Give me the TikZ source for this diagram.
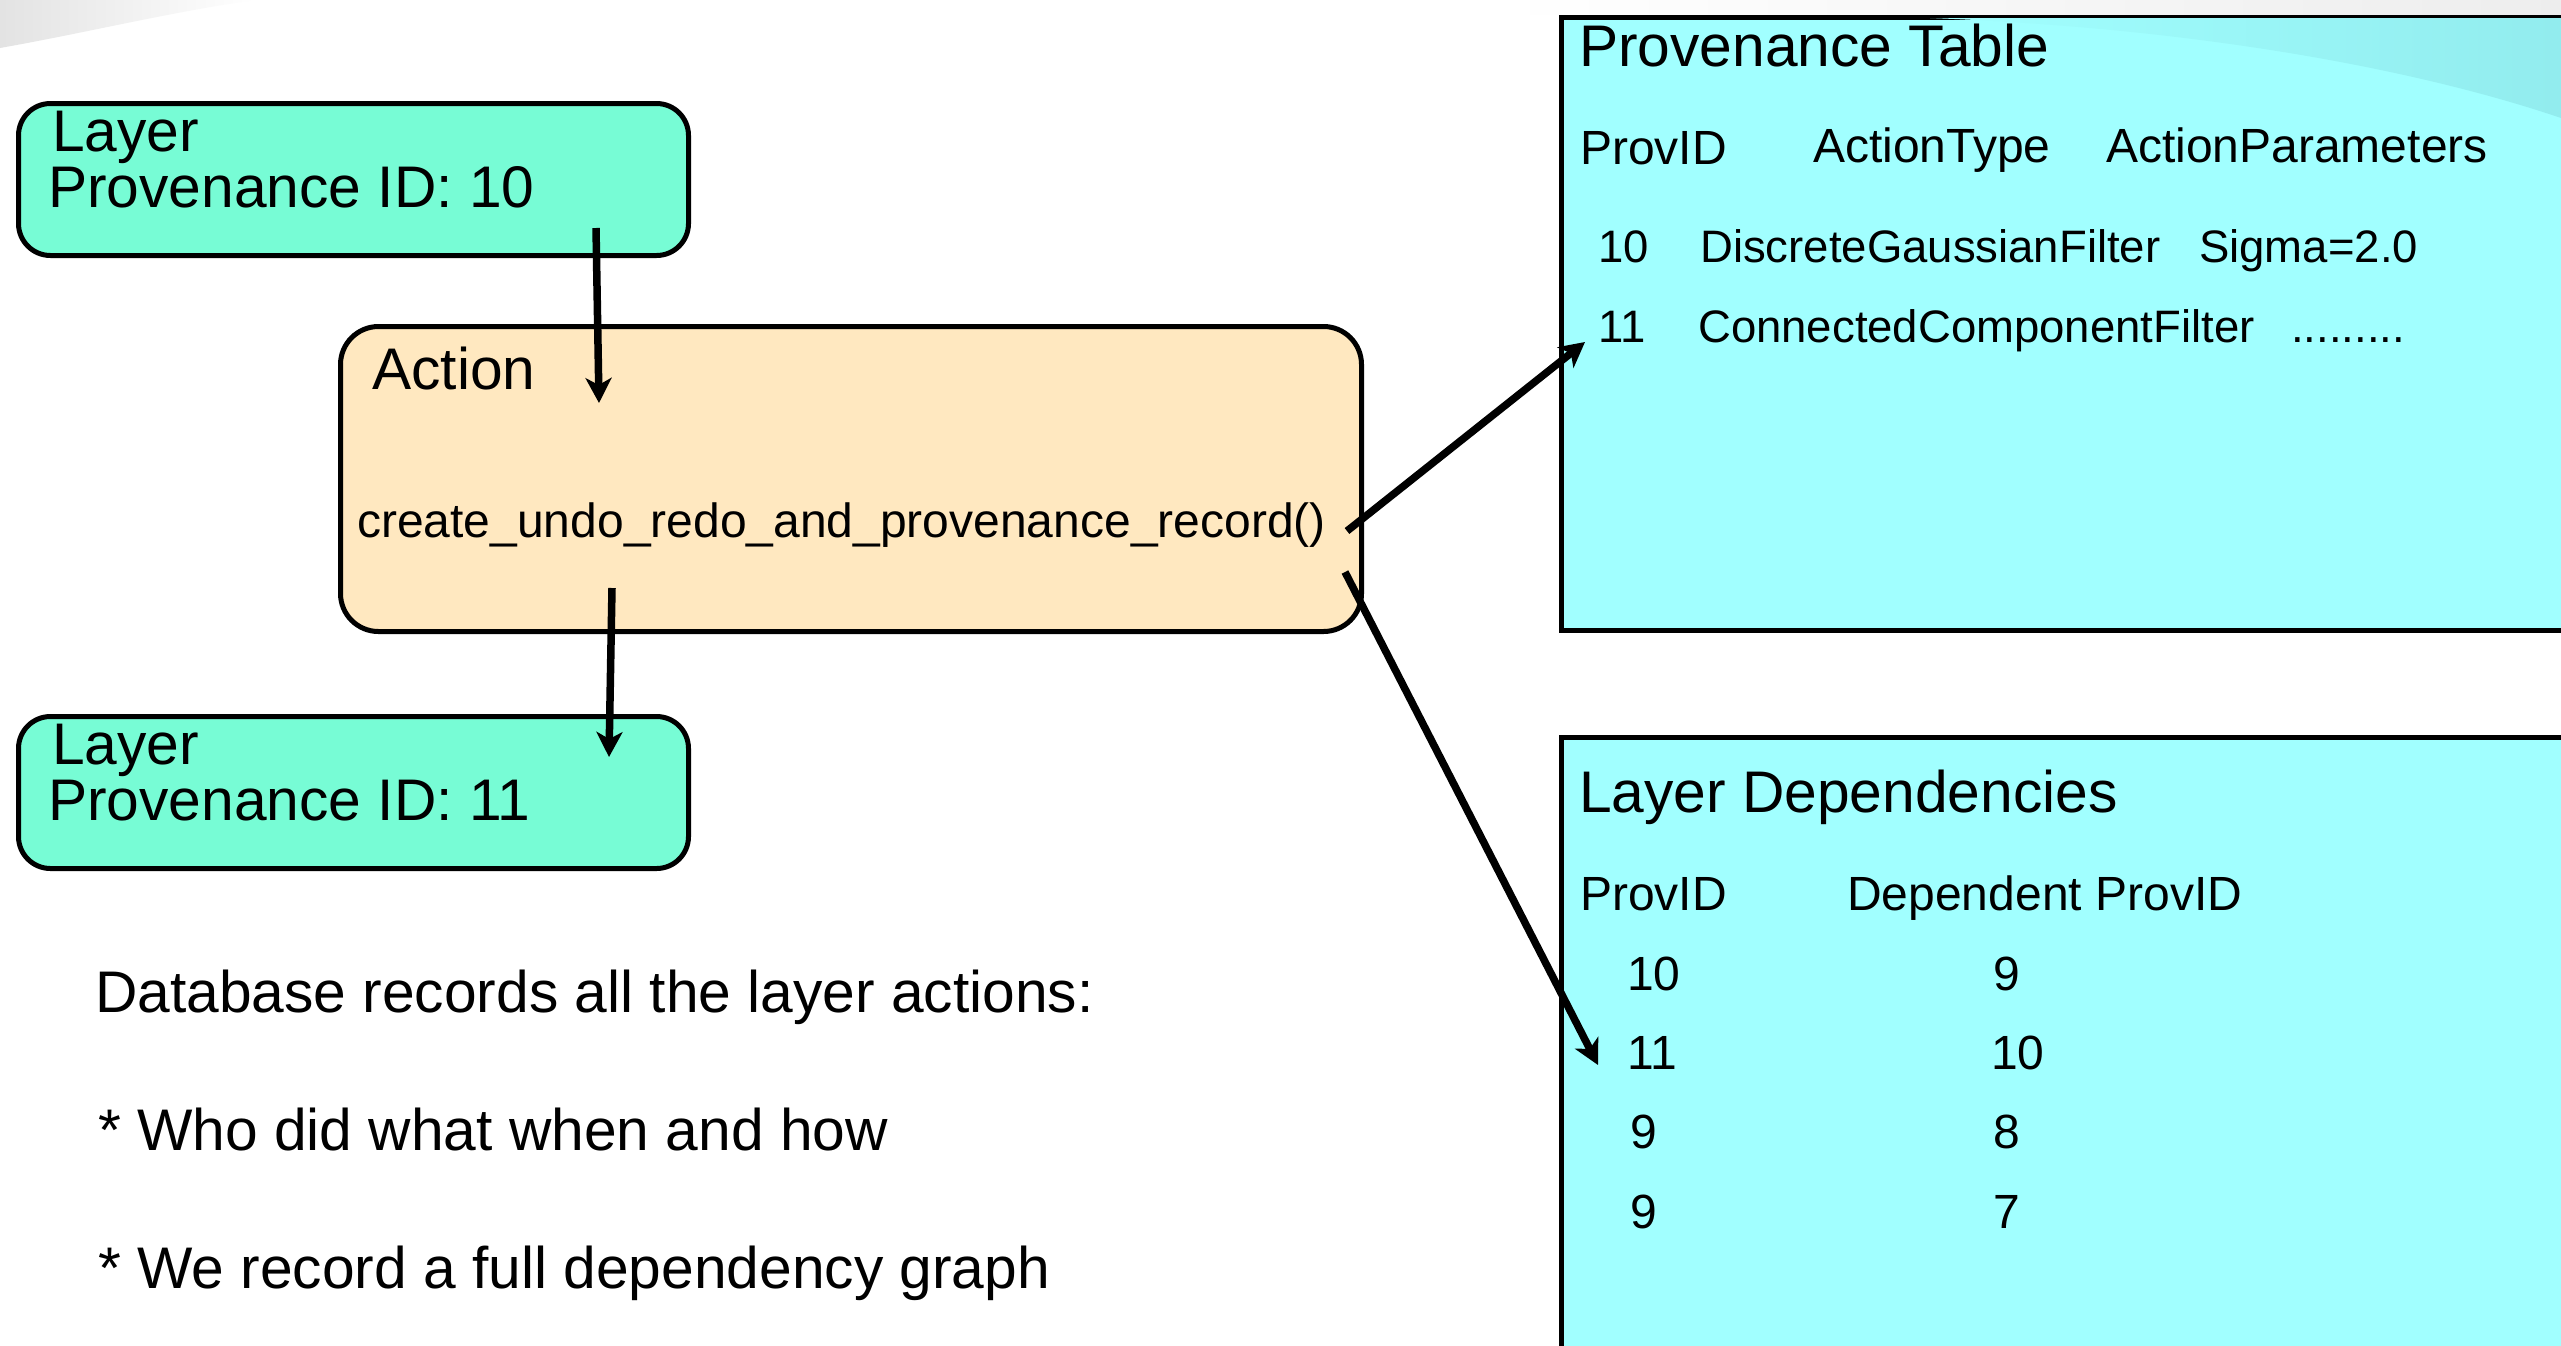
\documentclass[tikz,border=0pt]{standalone}
\usepackage{fontspec}
\setmainfont{Liberation Sans}
\usetikzlibrary{arrows.meta}
\definecolor{layercol}{RGB}{119,252,213}
\definecolor{actioncol}{RGB}{255,232,192}
\definecolor{tabcol}{RGB}{161,255,255}
\definecolor{tabdark}{RGB}{146,236,238}
\begin{document}
\begin{tikzpicture}[x=1pt,y=-1pt,
  layerbox/.style={draw=black, line width=5pt, fill=layercol, rounded corners=32pt,
    minimum width=670pt, minimum height=152pt, anchor=north west, inner sep=0pt},
  actionbox/.style={draw=black, line width=5pt, fill=actioncol, rounded corners=38pt,
    minimum width=1021pt, minimum height=305pt, anchor=north west, inner sep=0pt},
  tablebox/.style={draw=black, line width=5pt, fill=tabcol, anchor=north west, inner sep=0pt},
  big/.style={font=\fontsize{58.7}{58.7}\selectfont, anchor=base west, inner sep=0pt},
  small/.style={font=\fontsize{48}{48}\selectfont, anchor=base west, inner sep=0pt},
  row/.style={font=\fontsize{45.5}{45.5}\selectfont, anchor=base west, inner sep=0pt},
  conn/.style={line width=7.5pt, -{Stealth[length=25pt,width=26pt,inset=7pt]}},
]
\useasboundingbox (0,0) rectangle (2561,1345);
\clip (0,0) rectangle (2561,1345);
\fill[white] (0,0) rectangle (2561,1345);
% background swooshes
\shade[left color=gray!22, right color=white] (0,0) -- (0,48) .. controls (90,32) and (170,12) .. (255,0) -- cycle;
\shade[left color=white, right color=gray!14] (1500,0) rectangle (2561,14);

% boxes
\node[layerbox] (l10) at (16,101) {};
\node[layerbox] (l11) at (16,714) {};
\node[actionbox] (act) at (338,324) {};
\node[tablebox, minimum width=1100pt, minimum height=613pt] (provtab) at (1559,15) {};
\node[tablebox, minimum width=1100pt, minimum height=700pt] (deptab) at (1559,735) {};
\shade[left color=tabcol, right color=tabdark] (1930,18) .. controls (2200,28) and (2420,70) .. (2561,118) -- (2561,18) -- cycle;

% layer box texts
\node[big] (l10a) at (52,151) {Layer};
\node[big] (l10b) at (48,207) {Provenance ID: 10};
\node[big] (l11a) at (52,764) {Layer};
\node[big] (l11b) at (48,820) {Provenance ID: 11};

% action texts
\node[big] (acta) at (372,389) {Action};
\node[small] (actb) at (357,537) {create\_undo\_redo\_and\_provenance\_record()};

% provenance table
\node[big] (pt) at (1579,66) {Provenance Table};
\node[small] (pth1) at (1580,164) {ProvID};
\node[small] (pth2) at (1813,162) {ActionType};
\node[small] (pth3) at (2106,162) {ActionParameters};
\node[row] (pr1a) at (1598,262) {10};
\node[row] (pr1b) at (1700,262) {DiscreteGaussianFilter};
\node[row] (pr1c) at (2199,262) {Sigma=2.0};
\node[row] (pr2a) at (1598,342) {11};
\node[row] (pr2b) at (1698,342) {ConnectedComponentFilter};
\node[row] (pr2c) at (2291,342) {.........};

% layer dependencies
\node[big] (ld) at (1579,812) {Layer Dependencies};
\node[small] (ldh1) at (1580,910) {ProvID};
\node[small] (ldh2) at (1847,910) {Dependent ProvID};
\node[small] (d1a) at (1627,990) {10};
\node[small] (d1b) at (1993,990) {9};
\node[small] (d2a) at (1627,1069) {11};
\node[small] (d2b) at (1991,1069) {10};
\node[small] (d3a) at (1630,1148) {9};
\node[small] (d3b) at (1993,1148) {8};
\node[small] (d4a) at (1630,1228) {9};
\node[small] (d4b) at (1993,1228) {7};

% left notes
\node[big] (n1) at (95,1012) {Database records all the layer actions:};
\node[big] (n2) at (98,1150) {* Who did what when and how};
\node[big] (n3) at (98,1288) {* We record a full dependency graph};

% connectors
\coordinate (a1s) at (596,228);
\coordinate (a1e) at (599,403);
\coordinate (a2s) at (612,588);
\coordinate (a2e) at (609,757);
\coordinate (a3s) at (1347,531);
\coordinate (a3e) at (1585,342);
\coordinate (a4s) at (1345,572);
\coordinate (a4e) at (1598,1065);
\draw[conn] (a1s) -- (a1e);
\draw[conn] (a2s) -- (a2e);
\draw[conn] (a3s) -- (a3e);
\draw[conn] (a4s) -- (a4e);
\end{tikzpicture}
\end{document}
